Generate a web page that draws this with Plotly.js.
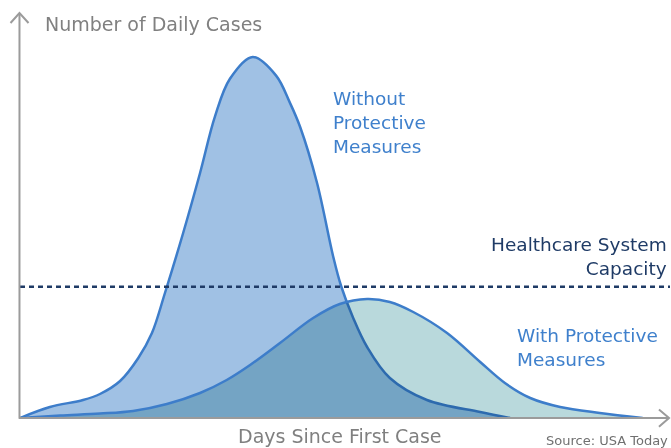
<!DOCTYPE html>
<html>
<head>
<meta charset="utf-8">
<script src="https://cdn.plot.ly/plotly-3.0.1.min.js"></script>
<style>
  html, body { margin: 0; padding: 0; background: #ffffff; }
  #chart { width: 671px; height: 448px; }
  .js-fill { mix-blend-mode: multiply; }
</style>
</head>
<body>
<div id="chart"></div>
<script>
// Days since first case (schematic scale 0-100) and daily cases (schematic 0-100)
const withoutDays  = [0, 4.6, 9.7, 12.3, 15.4, 18.2, 20.3, 22.3, 25.1, 27.7, 30.0, 32.3, 35.8, 39.4, 41.5, 43.1, 45.7, 48.2, 49.4, 51.2, 53.4, 56.9, 62.6, 70.8, 75.4];
const withoutCases = [0, 2.75, 4.5, 6.0, 9.25, 15.0, 21.25, 31.25, 46.25, 61.25, 75.4, 84.8, 90.25, 85.6, 78.9, 72.75, 58.75, 40.25, 33, 25.25, 17.75, 10, 4.5, 1.5, 0];

const withDays  = [0, 6.2, 12.3, 17.4, 22.6, 27.7, 31.8, 35.4, 40.0, 45.1, 49.2, 53.4, 56.9, 60.5, 65.7, 70.8, 74.6, 78.5, 83.1, 89.2, 95.8];
const withCases = [0, 0.6, 1.1, 1.75, 3.5, 6.25, 9.5, 13.25, 18.75, 25, 28.5, 29.75, 29, 26.5, 21.25, 14, 8.75, 5, 2.75, 1.25, 0];

const capacity = 32.8;

const yTitle = "Number of Daily Cases";
const xTitle = "Days Since First Case";
const sourceText = "Source: USA Today";
const withoutLabel = "Without<br>Protective<br>Measures";
const withLabel = "With Protective<br>Measures";
const capacityLabel = "Healthcare System<br>Capacity";

const lineBlue = "#3d7dca";
const labelBlue = "#3f80cc";
const navy = "#1f3b66";
const font = "DejaVu Sans, Verdana, sans-serif";
const grey = "#9b9b9b";

const traces = [
  {
    x: withoutDays, y: withoutCases, type: "scatter", mode: "lines",
    line: { shape: "spline", smoothing: 1, color: lineBlue, width: 2.5 },
    fill: "tozeroy", fillcolor: "rgb(160,193,228)", hoverinfo: "skip"
  },
  {
    x: withDays, y: withCases, type: "scatter", mode: "lines",
    line: { shape: "spline", smoothing: 1, color: lineBlue, width: 2.5 },
    fill: "tozeroy", fillcolor: "rgb(185,217,220)", hoverinfo: "skip"
  }
];

function label(text, x, y, xanchor, color, size) {
  return { text: text, xref: "paper", yref: "paper", x: x, y: y,
    xanchor: xanchor, yanchor: "middle", align: xanchor === "right" ? "right" : "left",
    showarrow: false, font: { family: font, size: size, color: color } };
}

const annotations = [
  label(yTitle, 0.0354, 0.9855, "left", "#808080", 19),
  label(xTitle, 0.4923, -0.045, "center", "#808080", 19),
  label(sourceText, 1.0, -0.055, "right", "#707070", 13),
  label(withoutLabel, 0.4785, 0.7395, "left", labelBlue, 18.5),
  label(withLabel, 0.7615, 0.1755, "left", labelBlue, 18.5),
  label(capacityLabel, 0.9992, 0.405, "right", navy, 18.5)
];

const layout = {
  width: 671, height: 448,
  margin: { l: 20, r: 1, t: 18, b: 30 },
  paper_bgcolor: "#ffffff", plot_bgcolor: "#ffffff",
  showlegend: false,
  xaxis: { range: [0, 100], visible: false, fixedrange: true },
  yaxis: { range: [0, 100], visible: false, fixedrange: true },
  shapes: [
    { type: "line", xref: "paper", yref: "y", x0: 0, x1: 1, y0: capacity, y1: capacity,
      line: { color: navy, width: 2.5, dash: "5px,4px" }, layer: "above" },
    { type: "line", xref: "paper", yref: "paper", x0: -0.0008, x1: -0.0008, y0: -0.002, y1: 1.0125,
      line: { color: grey, width: 2 }, layer: "above" },
    { type: "path", xref: "paper", yref: "paper",
      path: "M -0.0146 0.9875 L -0.0008 1.0125 L 0.0131 0.9875",
      line: { color: grey, width: 2 }, layer: "above" },
    { type: "line", xref: "paper", yref: "paper", x0: -0.0015, x1: 0.9985, y0: 0, y1: 0,
      line: { color: grey, width: 2 }, layer: "above" },
    { type: "path", xref: "paper", yref: "paper",
      path: "M 0.983 0.021 L 0.9985 0 L 0.983 -0.022",
      line: { color: grey, width: 2 }, layer: "above" }
  ],
  annotations: annotations
};

Plotly.newPlot("chart", traces, layout, { displayModeBar: false, staticPlot: true });
</script>
</body>
</html>
